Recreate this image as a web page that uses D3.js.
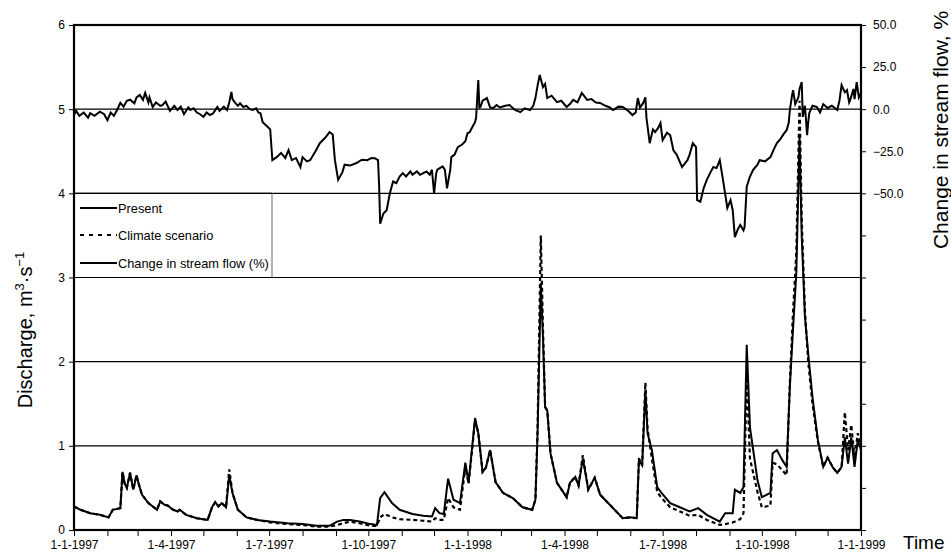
<!DOCTYPE html>
<html>
<head>
<meta charset="utf-8">
<script src="https://cdn.jsdelivr.net/npm/d3@7/dist/d3.min.js"></script>
<style>
  html, body { margin: 0; padding: 0; background: #fff; }
  svg { display: block; font-family: "Liberation Sans", Arial, sans-serif; }
</style>
</head>
<body>
<svg id="chart" width="951" height="555"></svg>
<script>
// ---------- DATA (day offsets from 1-1-1997) ----------
const qDays = [0,6,15,24,32,36,43,45,47,49,52,55,58,60,63,69,77,80,84,87,92,96,98,104,114,124,128,131,134,137,141,144,147,152,160,170,182,198,212,225,237,244,250,256,265,275,281,284,288,295,302,314,324,332,335,339,343,347,352,358,363,366,372,375,379,382,386,391,398,407,416,425,428,430,433,435,437,439,442,448,457,460,465,468,472,477,483,488,497,509,516,522,524,527,530,532,536,541,545,553,562,571,579,587,599,604,611,613,618,621,624,627,634,638,646,648,652,657,661,664,667,670,673,675,678,681,685,690,695,699,704,708,712,715,718,721,724,727,730];
const presentQ = [0.28,0.24,0.20,0.18,0.15,0.24,0.26,0.69,0.55,0.50,0.68,0.48,0.65,0.55,0.42,0.32,0.24,0.34,0.30,0.29,0.24,0.22,0.24,0.18,0.14,0.12,0.27,0.33,0.28,0.32,0.27,0.65,0.44,0.24,0.15,0.12,0.10,0.08,0.07,0.05,0.05,0.10,0.12,0.12,0.10,0.07,0.06,0.38,0.45,0.32,0.24,0.19,0.17,0.16,0.26,0.20,0.19,0.61,0.36,0.32,0.80,0.56,1.33,1.15,0.69,0.74,0.95,0.57,0.44,0.38,0.27,0.24,0.36,1.15,2.93,2.29,1.46,1.42,0.91,0.56,0.39,0.56,0.63,0.53,0.85,0.48,0.62,0.42,0.30,0.14,0.15,0.14,0.83,0.77,1.66,1.15,0.95,0.51,0.44,0.32,0.27,0.22,0.26,0.18,0.10,0.20,0.20,0.48,0.44,0.51,2.20,1.22,0.59,0.39,0.44,0.91,0.95,0.83,0.75,1.70,2.40,3.05,4.67,3.50,2.53,2.10,1.58,1.07,0.75,0.86,0.74,0.68,0.75,1.10,0.79,1.10,0.75,1.07,0.95];
const climateQ = [0.28,0.24,0.20,0.18,0.15,0.24,0.26,0.69,0.55,0.50,0.68,0.48,0.65,0.55,0.42,0.32,0.24,0.34,0.30,0.29,0.24,0.22,0.24,0.18,0.14,0.12,0.27,0.33,0.28,0.32,0.27,0.72,0.44,0.24,0.15,0.12,0.09,0.07,0.06,0.04,0.04,0.06,0.08,0.10,0.08,0.05,0.05,0.15,0.19,0.15,0.13,0.12,0.11,0.10,0.14,0.12,0.12,0.38,0.27,0.24,0.75,0.55,1.30,1.15,0.69,0.74,0.95,0.57,0.44,0.38,0.27,0.24,0.36,1.20,3.50,2.40,1.46,1.42,0.91,0.56,0.39,0.56,0.63,0.53,0.89,0.48,0.62,0.42,0.30,0.14,0.15,0.14,0.85,0.77,1.75,1.20,0.85,0.45,0.38,0.27,0.22,0.17,0.18,0.12,0.06,0.07,0.09,0.10,0.13,0.20,1.82,0.85,0.45,0.27,0.29,0.80,0.78,0.71,0.65,1.75,2.60,3.30,5.10,3.70,2.60,2.00,1.50,1.05,0.75,0.86,0.74,0.68,0.75,1.40,0.95,1.25,0.85,1.15,1.00];

const pctDays = [0,2,5,9,13,15,19,24,28,31,34,37,40,43,46,49,52,56,58,61,64,66,69,70,73,76,80,82,85,89,93,96,99,102,106,108,111,114,117,120,123,126,129,133,135,139,142,144,146,147,149,152,154,157,160,163,166,169,171,173,175,180,182,184,188,192,196,199,202,206,210,212,216,219,224,228,233,237,240,242,245,249,251,256,262,267,272,276,279,282,283,284,287,290,293,296,299,302,305,308,312,314,318,321,324,327,330,332,334,336,337,342,344,346,349,350,353,356,360,363,365,367,370,372,373,375,376,377,379,383,386,389,392,395,400,404,409,414,418,423,426,428,430,432,435,437,439,443,448,452,457,460,463,467,471,476,480,484,488,493,497,500,505,509,514,518,521,523,525,528,530,531,534,537,539,542,544,546,550,553,556,559,564,569,571,574,577,578,581,584,587,590,593,596,599,602,606,609,611,613,616,618,621,622,624,627,630,634,636,641,646,649,652,655,658,661,663,664,666,667,669,672,673,675,676,678,680,681,682,685,689,692,695,699,703,708,710,712,715,717,719,720,723,724,726,728,730];
const changePct = [-3.5,-1,-4,-2,-5,-2.4,-4,-1.5,-3,-6.5,-2,-4,-0.5,3.7,1.5,5,5.6,3.5,7,8.4,5.5,9.6,4,7,1.3,4,2,2.4,4.5,-1,2,-0.5,1.5,-3,1,-0.5,0.5,-2,-3,-4.6,-2,-3.5,-2.5,1.3,-1,1.5,-0.5,4,10.2,6,4.2,2,3.5,1.3,2,0,-0.5,0.5,-2,-2.4,-7.7,-10.7,-12,-30.3,-28.5,-26,-29,-24.3,-30.3,-29,-34.4,-28.5,-31,-30.3,-25,-20.2,-17,-13.6,-15,-30.3,-42,-37.4,-33,-33.5,-32,-30,-30.3,-29,-29.1,-30.3,-45,-68,-62,-60,-50,-43,-44,-40,-38,-40,-37,-39,-37,-39,-38,-37,-39,-36,-50,-38,-36,-34,-36,-47,-36,-28.5,-27,-22.6,-21,-19,-14.3,-13.7,-10,-7.7,-5,17.3,1,1.3,5,6.6,1,0.7,2.5,1,2,2.4,-0.5,-1.8,0.5,-0.5,2,6.6,14,20.3,13.1,15,6.6,8,4.2,5,1.3,3,5.5,4,9.6,5.5,6,4,3.7,2,1,-0.5,1.5,1.3,-1,-3.5,-2,6.6,1,3.7,7,-5.2,-20.2,-12,-13.6,-11,-8.3,-18.4,-14,-15.4,-24.4,-27,-34.4,-30.3,-27,-20.2,-22.5,-54,-55,-47,-42,-38,-34.4,-35,-30.3,-42,-58.7,-54,-60,-76,-71,-68.8,-72,-70,-46,-40,-36,-33,-30.3,-31,-28.5,-24,-20.2,-18,-15,-12.5,-8,-0.5,8,11.3,3,7.2,12,16.1,-4.6,2,-15.4,-8,-2.4,2,1.3,-2,3,0.7,2,-0.5,5,14.3,10,11.3,4,5.5,12,6,16,7,9.6];

const leftTicks = [0,1,2,3,4,5,6];
const rightTicks = [50,25,0,-25,-50,-75,-100,-125,-150,-175,-200,-225,-250];
const rightLabeled = [50,25,0,-25,-50];
const legendLabels = ["Present","Climate scenario","Change in stream flow (%)"];

// ---------- LAYOUT ----------
const L = 74, R = 861, T = 25, B = 530;
const svg = d3.select("#chart");
const t0 = Date.UTC(1997,0,1);
const toDate = d => new Date(t0 + d*86400000);

const x = d3.scaleUtc().domain([toDate(0), new Date(Date.UTC(1999,0,1))]).range([L, R]);
const yL = d3.scaleLinear().domain([0,6]).range([B, T]);
const yR = d3.scaleLinear().domain([-250,50]).range([B, T]);

// gridlines
svg.append("g").selectAll("line").data([1,2,3,4,5]).join("line")
  .attr("x1", L).attr("x2", R)
  .attr("y1", d => yL(d)).attr("y2", d => yL(d))
  .attr("stroke", "#000").attr("stroke-width", 1.2);

// lines
const qLineP = d3.line().x((d,i) => x(toDate(qDays[i]))).y(d => yL(d));
const pLine = d3.line().x((d,i) => x(toDate(pctDays[i]))).y(d => yR(d));

svg.append("path").datum(climateQ).attr("d", qLineP)
  .attr("fill","none").attr("stroke","#000").attr("stroke-width",2.2)
  .attr("stroke-dasharray","4,3");
svg.append("path").datum(presentQ).attr("d", qLineP)
  .attr("fill","none").attr("stroke","#000").attr("stroke-width",2);
svg.append("path").datum(changePct).attr("d", pLine)
  .attr("fill","none").attr("stroke","#000").attr("stroke-width",2);

// legend
const lg = svg.append("g");
lg.append("rect").attr("x", L).attr("y", yL(4)).attr("width", 198).attr("height", yL(3)-yL(4))
  .attr("fill","#fff").attr("stroke","none");
lg.append("line").attr("x1", L+198).attr("x2", L+198).attr("y1", yL(4)).attr("y2", yL(3))
  .attr("stroke","#808080").attr("stroke-width",1.2);
lg.append("line").attr("x1", L).attr("x2", L+198).attr("y1", yL(4)).attr("y2", yL(4))
  .attr("stroke","#000").attr("stroke-width",1.2);
lg.append("line").attr("x1", L).attr("x2", L+198).attr("y1", yL(3)).attr("y2", yL(3))
  .attr("stroke","#000").attr("stroke-width",1.2);
const rowsY = [208, 235, 263];
legendLabels.forEach((lab, i) => {
  lg.append("line").attr("x1", 80).attr("x2", 117).attr("y1", rowsY[i]).attr("y2", rowsY[i])
    .attr("stroke","#000").attr("stroke-width",2)
    .attr("stroke-dasharray", i === 1 ? "4,5" : null);
  lg.append("text").attr("x", 118).attr("y", rowsY[i] + 4.5)
    .attr("font-size", "12.8px").attr("fill","#000").text(lab);
});

// axes
const fmtDate = d => `${d.getUTCDate()}-${d.getUTCMonth()+1}-${d.getUTCFullYear()}`;
const xAxis = d3.axisBottom(x).ticks(d3.utcMonth.every(1)).tickSize(6).tickPadding(4)
  .tickFormat(d => d.getUTCMonth() % 3 === 0 ? fmtDate(d) : "");
const gx = svg.append("g").attr("transform", `translate(0,${B})`).call(xAxis);
gx.select(".domain").remove();
gx.selectAll(".tick line").attr("stroke","#000").attr("stroke-width",1);
gx.selectAll(".tick text").attr("font-size","12px").attr("fill","#000")
  .attr("font-family","Liberation Sans, Arial, sans-serif");

const yAxisL = d3.axisLeft(yL).tickValues(leftTicks).tickSize(5).tickPadding(4).tickFormat(d3.format("d"));
const gyl = svg.append("g").attr("transform", `translate(${L},0)`).call(yAxisL);
gyl.select(".domain").remove();
gyl.selectAll(".tick text").attr("font-size","12px").attr("fill","#000")
  .attr("font-family","Liberation Sans, Arial, sans-serif");

const yAxisR = d3.axisRight(yR).tickValues(rightTicks).tickSize(5).tickPadding(7)
  .tickFormat(d => rightLabeled.includes(d) ? d3.format(".1f")(d) : "");
const gyr = svg.append("g").attr("transform", `translate(${R},0)`).call(yAxisR);
gyr.select(".domain").remove();
gyr.selectAll(".tick text").attr("font-size","12px").attr("fill","#000")
  .attr("font-family","Liberation Sans, Arial, sans-serif");

// frame
svg.append("rect").attr("x", L).attr("y", T).attr("width", R-L).attr("height", B-T)
  .attr("fill","none").attr("stroke","#000").attr("stroke-width",2.2);

// titles
const lt = svg.append("text").attr("transform", "translate(32,330) rotate(-90)")
  .attr("text-anchor","middle").attr("font-size","20px").attr("fill","#000");
lt.append("tspan").text("Discharge, m");
lt.append("tspan").attr("font-size","13px").attr("dy",-8).text("3");
lt.append("tspan").attr("dy",8).text("·s");
lt.append("tspan").attr("font-size","13px").attr("dy",-8).text("\u22121");

svg.append("text").attr("transform", "translate(948,130) rotate(-90)")
  .attr("text-anchor","middle").attr("font-size","21px").attr("fill","#000")
  .text("Change in stream flow, %");

svg.append("text").attr("x", 903).attr("y", 549).attr("font-size","19px").attr("fill","#000").text("Time");
</script>
</body>
</html>
